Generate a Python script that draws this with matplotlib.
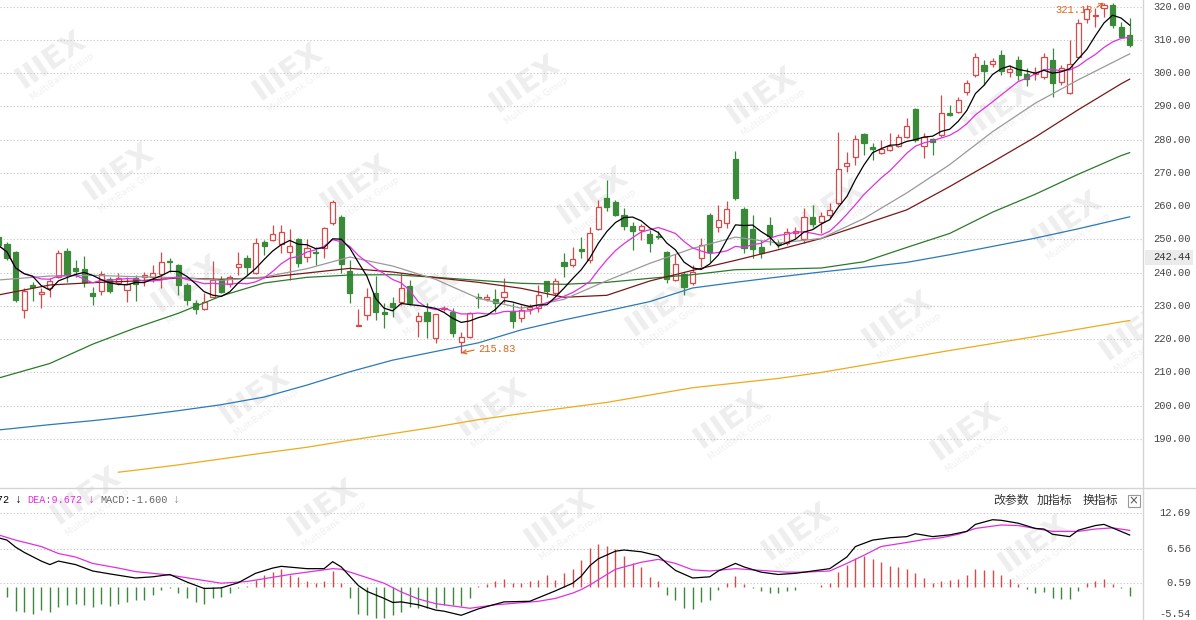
import matplotlib.pyplot as plt
from matplotlib.lines import Line2D
from matplotlib.patches import Rectangle
import numpy as np
import pandas as pd

# candles, index -1 .. 131 (the first one is cut by the left edge)
opens = [250.6, 248.6, 246.2, 228.8, 236.3, 233.7, 235.5, 238.8, 246.5, 241.5, 241.1,
         234.0, 234.5, 238.1, 236.8, 234.8, 238.3, 238.8, 238.8, 239.5, 243.5,
         242.3, 236.3, 231.0, 229.0, 232.8, 238.0, 236.6, 241.6, 244.3, 239.8,
         249.3, 249.8, 248.6, 246.3, 250.0, 244.6, 246.3, 247.3, 254.9, 256.8,
         240.4, 224.0, 227.3, 233.8, 228.3, 230.9, 231.3, 236.1, 225.5, 228.1,
         220.5, 229.1, 228.3, 219.3, 220.8, 232.8, 232.0, 232.1, 232.6, 228.6,
         226.3, 229.2, 229.3, 237.4, 233.8, 243.3, 242.3, 247.0, 243.8, 253.0,
         262.4, 261.4, 257.4, 254.1, 252.8, 251.5, 251.0, 246.2, 237.9, 239.7,
         237.0, 244.3, 257.4, 253.8, 255.0, 274.1, 259.2, 253.0, 247.6, 254.3,
         249.0, 248.8, 251.8, 250.1, 256.8, 255.3, 257.3, 260.9, 272.0, 274.7,
         281.7, 277.9, 275.9, 276.9, 278.1, 280.9, 289.1, 278.1, 280.1, 281.4,
         287.9, 288.4, 294.4, 299.5, 302.5, 302.8, 305.5, 300.2, 304.0, 299.6,
         299.8, 298.8, 304.0, 297.4, 294.0, 305.0, 316.2, 317.1, 319.6, 320.6,
         313.8, 311.5]
highs = [251.2, 249.3, 246.5, 235.3, 237.1, 235.3, 238.5, 246.8, 247.3, 243.8, 245.0,
         235.8, 240.5, 238.8, 239.8, 238.8, 239.3, 240.3, 242.2, 246.3, 244.5,
         242.6, 236.8, 231.8, 233.8, 243.5, 239.0, 239.3, 246.3, 245.2, 250.3,
         249.8, 254.3, 254.3, 253.1, 250.3, 250.0, 247.8, 253.6, 262.0, 257.2,
         243.8, 229.0, 235.3, 239.0, 230.8, 232.8, 240.0, 237.8, 228.3, 230.8,
         227.7, 229.9, 229.3, 222.3, 228.3, 233.8, 233.6, 235.2, 238.3, 230.8,
         230.3, 230.5, 236.3, 237.6, 238.3, 245.8, 247.8, 250.8, 253.8, 261.9,
         268.0, 262.0, 259.4, 255.3, 254.6, 252.8, 252.4, 246.5, 245.5, 240.3,
         242.3, 250.3, 257.9, 260.4, 261.7, 276.7, 259.9, 257.4, 249.8, 256.7,
         249.8, 253.3, 253.6, 259.6, 260.4, 258.2, 260.9, 282.4, 276.4, 281.4,
         281.9, 279.0, 279.9, 281.9, 281.8, 286.4, 289.5, 281.9, 280.4, 293.4,
         290.4, 292.9, 298.0, 306.0, 304.0, 304.5, 307.0, 302.5, 305.2, 301.5,
         302.0, 306.0, 307.5, 302.5, 310.0, 316.2, 320.5, 319.5, 321.18, 321.0,
         315.5, 316.5]
lows = [247.0, 243.8, 231.3, 226.5, 231.5, 229.3, 232.8, 238.5, 237.3, 238.8, 235.6,
        230.3, 233.3, 233.8, 236.3, 231.1, 231.5, 236.1, 237.1, 235.3, 240.3,
        233.3, 230.3, 227.6, 228.8, 232.6, 233.8, 235.8, 239.3, 239.3, 239.6,
        245.3, 249.5, 245.8, 237.8, 241.8, 243.3, 242.3, 244.3, 254.3, 240.0,
        230.8, 223.9, 225.8, 225.8, 223.3, 226.8, 230.3, 230.3, 220.7, 220.3,
        218.8, 228.6, 220.7, 215.83, 220.3, 229.3, 231.4, 228.1, 230.8, 223.3,
        225.3, 227.7, 228.3, 232.7, 233.4, 238.8, 241.8, 244.3, 242.8, 252.8,
        258.6, 256.9, 252.8, 246.8, 249.9, 246.3, 250.1, 236.8, 237.5, 233.3,
        236.3, 241.8, 243.3, 252.3, 253.3, 261.9, 245.8, 244.3, 244.3, 248.3,
        247.3, 248.3, 250.5, 249.0, 253.8, 252.0, 256.4, 260.5, 270.4, 272.4,
        275.4, 273.9, 275.7, 276.7, 277.9, 280.4, 279.4, 274.4, 275.4, 280.9,
        287.0, 288.1, 293.4, 298.8, 296.5, 302.0, 299.5, 298.8, 298.0, 296.0,
        298.0, 298.2, 292.9, 296.5, 293.7, 304.5, 315.0, 314.0, 316.9, 313.5,
        310.5, 308.0]
closes = [248.2, 244.3, 231.8, 234.5, 235.8, 234.1, 237.5, 245.8, 239.5, 240.5, 237.1,
          233.0, 239.5, 234.5, 238.3, 236.5, 236.5, 239.3, 239.8, 243.3, 243.1,
          236.3, 231.8, 229.0, 231.3, 237.8, 234.3, 238.8, 242.6, 241.6, 248.8,
          248.0, 251.6, 252.1, 248.0, 243.0, 247.3, 245.8, 253.4, 261.4, 242.5,
          233.8, 224.3, 232.6, 228.3, 227.6, 229.8, 235.5, 230.8, 227.0, 225.5,
          227.5, 229.4, 222.0, 220.8, 227.8, 232.4, 232.8, 231.0, 234.1, 225.6,
          228.7, 229.7, 233.3, 234.4, 237.4, 242.0, 244.0, 246.6, 251.9, 259.7,
          259.8, 257.4, 254.1, 252.6, 254.1, 249.0, 250.6, 238.1, 242.5, 235.7,
          240.3, 248.3, 246.3, 255.8, 259.1, 262.4, 247.3, 247.0, 246.0, 251.0,
          248.6, 252.3, 252.4, 256.8, 254.6, 257.0, 258.9, 271.1, 272.9, 280.1,
          279.1, 277.2, 277.1, 278.1, 280.9, 284.1, 279.9, 280.9, 279.4, 288.1,
          287.4, 291.9, 297.1, 304.8, 300.5, 303.7, 300.5, 301.3, 299.5, 298.2,
          300.3, 305.0, 297.0, 301.5, 302.8, 315.2, 319.2, 317.6, 320.6, 314.5,
          311.0, 308.5]

# longer moving averages (MA5 / MA10 come from the closes)
ma_idx = [-1] + list(range(5, 131, 5)) + [131]
ma20 = [237.8, 239.0, 239.2, 238.8, 238.5, 237.7, 238.7, 241.2, 244.7, 242.0, 238.0,
        232.3, 229.3, 232.0, 237.6, 242.8, 247.3, 250.7, 248.9, 250.3, 256.3,
        264.0, 272.5, 282.4, 291.0, 298.0, 304.5, 305.8]
ma30 = [233.3, 236.3, 237.0, 237.5, 238.4, 238.0, 238.5, 239.9, 241.3, 240.2, 238.5,
        237.1, 235.3, 232.6, 233.2, 237.5, 240.7, 243.7, 246.9, 250.3, 254.6,
        258.9, 265.9, 273.3, 280.8, 289.0, 296.8, 298.2]
ma60 = [208.3, 212.7, 218.5, 223.4, 227.8, 233.0, 236.9, 238.6, 239.3, 239.4, 238.6,
        237.7, 236.8, 236.5, 237.1, 238.3, 239.4, 240.9, 241.1, 241.4, 243.3,
        247.6, 251.8, 258.2, 263.6, 269.6, 275.2, 276.1]
ma120 = [192.7, 194.3, 195.5, 196.9, 198.5, 200.3, 202.6, 206.2, 210.2, 213.7, 216.3,
         218.9, 222.8, 225.8, 228.5, 231.3, 235.4, 237.1, 238.7, 240.2, 241.6,
         243.1, 245.4, 247.9, 250.4, 253.2, 256.2, 256.8]
ma250_idx = [13, 15] + list(range(20, 131, 5)) + [131]
ma250 = [180.0, 180.6, 182.2, 184.0, 185.8, 187.5, 189.6, 191.6, 193.6, 195.8, 197.6,
         199.3, 201.0, 203.2, 205.4, 206.8, 208.2, 210.0, 212.2, 214.4, 216.6,
         218.7, 220.8, 223.0, 225.2, 225.6]

# MACD panel
macd_hist = [-1.0,
             -1.7, -4.2, -4.3, -4.6, -4.0, -4.4, -3.4, -3.1, -3.0, -3.1,
             -3.4, -3.0, -3.3, -3.0, -2.7, -2.3, -2.3, -1.4, -0.6, -0.3,
             -1.0, -2.0, -2.6, -2.9, -2.0, -1.7, -1.1, -0.2, 0.2, 1.1,
             2.0, 2.5, 3.1, 2.0, 1.7, 0.9, 0.6, 0.9, 2.7, 0.6,
             -2.0, -4.6, -4.9, -5.4, -5.4, -4.9, -4.3, -3.4, -3.6, -3.7,
             -3.6, -3.1, -3.1, -3.3, -2.0, 0.2, 0.4, 0.9, 1.3, 0.6,
             0.6, 0.9, 1.1, 2.0, 1.1, 2.3, 3.1, 4.6, 6.6, 7.3,
             7.0, 6.5, 5.3, 4.0, 3.3, 1.7, 0.9, -1.4, -2.3, -3.7,
             -3.8, -2.6, -2.3, -0.6, 0.6, 1.9, 0.4, -0.2, -0.7, -1.1,
             -1.1, -0.7, -0.6, -0.1, -0.1, 0.3, 0.7, 2.5, 3.7, 5.0,
             5.3, 4.7, 4.2, 3.6, 3.3, 3.1, 2.3, 1.5, 0.7, 1.0,
             1.1, 1.3, 2.0, 3.0, 2.9, 2.9, 2.0, 1.3, 0.4, -0.4,
             -1.1, -0.9, -2.0, -2.1, -2.1, -0.7, 0.6, 1.0, 1.3, 0.4,
             -0.3, -1.6]
dif_idx = [-1, 0, 1, 2, 4, 5, 6, 8, 10, 12, 15, 17, 19, 21, 23, 25, 27, 29, 31, 32,
           35, 37, 38, 39, 41, 42, 44, 45, 46, 48, 50, 51, 53, 55, 58, 61, 64, 66, 67, 68,
           69, 71, 72, 74, 76, 77, 78, 80, 82, 83, 85, 86, 88, 90, 92, 94, 96, 98, 99, 101,
           103, 105, 106, 108, 110, 112, 113, 115, 116, 118, 120, 121, 122, 124, 125, 127,
           128, 129, 131]
dif = [8.4, 8.0, 6.8, 5.9, 4.4, 3.8, 4.4, 3.8, 2.7, 2.2, 1.5, 1.7, 2.1, 0.8, -0.3, -0.2,
       0.7, 2.3, 3.2, 3.5, 3.1, 3.1, 4.3, 3.4, 0.2, -0.8, -2.0, -2.7, -2.6, -3.1, -4.0,
       -4.2, -4.9, -3.8, -2.6, -2.5, -0.7, 0.6, 1.8, 3.6, 4.8, 6.1, 6.3, 6.0, 5.3, 4.0,
       2.8, 1.5, 1.7, 2.7, 4.0, 3.4, 2.5, 2.1, 2.3, 2.7, 3.1, 5.1, 6.9, 8.0, 8.4, 8.6,
       9.1, 8.6, 8.9, 9.5, 10.7, 11.5, 11.4, 10.9, 10.0, 9.9, 9.0, 8.6, 9.7, 10.5, 10.7,
       10.1, 8.872]
dea_idx = [-1, 1, 4, 6, 8, 10, 13, 15, 17, 19, 22, 25, 28, 33, 37, 38, 39, 44, 46, 48,
           50, 54, 57, 62, 64, 66, 67, 68, 69, 71, 74, 76, 78, 80, 82, 85, 87, 89, 91, 93,
           96, 98, 100, 102, 105, 107, 109, 111, 113, 116, 118, 120, 122, 125, 127, 129, 131]
dea = [8.9, 8.0, 6.9, 5.7, 5.1, 4.0, 3.2, 2.6, 2.3, 2.0, 1.3, 0.6, 0.9, 2.1, 2.9, 3.1,
       3.0, 0.6, -0.9, -2.1, -2.9, -3.7, -3.1, -2.5, -2.0, -1.1, -0.5, 0.3, 1.2, 3.0,
       4.2, 4.7, 4.0, 2.9, 2.7, 3.1, 2.9, 2.7, 2.5, 2.5, 2.7, 4.0, 5.4, 6.9, 7.6, 8.1,
       8.4, 9.0, 10.0, 10.6, 10.5, 10.0, 9.5, 9.5, 9.9, 10.1, 9.672]

price_ticks = [320, 310, 300, 290, 280, 270, 260, 250, 240, 230, 220, 210, 200, 190]
macd_ticks = [12.69, 6.56, 0.59, -5.54]
high_mark = (128, 321.18)
low_mark = (53, 215.83)
cursor_price = 242.44
header_dif, header_dea, header_macd = 8.872, 9.672, -1.600
menu_items = ['改参数', '加指标', '换指标']

# colours / fonts
RED = '#d84a4a'
GREEN = '#3a8a3a'
MAG = '#e030e0'
ORANGE = '#e0641a'
MONO = ['Liberation Mono', 'DejaVu Sans Mono']
CJK = ['Noto Sans CJK SC', 'DejaVu Sans']

# layout in pixels
W, H = 1196, 620
PLOT_R = 1143      # right edge of the plotting area
X0, DX = 7.0, 8.57  # pixel of candle 0, candle spacing
PRICE_B = 488
MACD_T = 490


def fy(y):
    return 1 - y / H


fig = plt.figure(figsize=(W / 100, H / 100), dpi=100)
fig.patch.set_facecolor('white')

# faint watermark tiles
marks = []
for m in range(-1, 6):
    for n in range(-1, 6):
        cx = 50 + 237 * m + 68 * n
        cy = 60 + 12 * m + 112 * n
        if -80 < cx < 1180 and -60 < cy < 680:
            marks.append(fig.text(cx / W, fy(cy), 'IIIEX', rotation=35, fontsize=22,
                                  weight='bold', color='#eeeeee', ha='center', va='center',
                                  rotation_mode='anchor', zorder=-2))
            marks.append(fig.text((cx + 12) / W, fy(cy + 17), 'MultiBank Group', rotation=35,
                                  fontsize=6.5, color='#f0f0f0', ha='center', va='center',
                                  rotation_mode='anchor', zorder=-2))
fig.add_artist(Rectangle((PLOT_R / W, 0), 1 - PLOT_R / W, 1, transform=fig.transFigure,
                         facecolor='white', edgecolor='none', zorder=-1))

# drop tiles that would be cut by the picture edge
fig.canvas.draw()
rend = fig.canvas.get_renderer()
for t in marks:
    bb = t.get_window_extent(rend)
    if bb.x0 < 0 or bb.y0 < 0 or bb.x1 > W or bb.y1 > H:
        t.remove()

xlim = (-X0 / DX, (PLOT_R - X0) / DX)
x = np.arange(-1, len(closes) - 1)
o, h, l, c = (np.array(v) for v in (opens, highs, lows, closes))

# ---------------- price panel ----------------
ax = fig.add_axes([0, fy(PRICE_B), PLOT_R / W, PRICE_B / H])
ax.set_facecolor('none')
ax.set_xlim(*xlim)
ax.set_ylim(175.25, 322.0)
ax.set_xticks([])
ax.set_yticks([])
for s in ax.spines.values():
    s.set_visible(False)

for t in price_ticks:
    ax.axhline(t, color='#c4c4c4', lw=0.8, ls=(0, (1, 2)), zorder=1)
    ax.text(1191 / PLOT_R, t, f'{t:.2f}', transform=ax.get_yaxis_transform(),
            ha='right', va='center', fontsize=7.5, family=MONO, color='#444444')

up = c >= o
bot = np.minimum(o, c)
top = np.maximum(o, c)
bh = np.maximum(top - bot, 0.15)
ax.vlines(x[up], top[up], h[up], color=RED, lw=0.9, zorder=3)
ax.vlines(x[up], l[up], bot[up], color=RED, lw=0.9, zorder=3)
ax.vlines(x[~up], l[~up], h[~up], color=GREEN, lw=0.9, zorder=3)
ax.bar(x[up], bh[up], bottom=bot[up], width=0.6, facecolor='white', edgecolor=RED,
       linewidth=0.9, zorder=3.5)
ax.bar(x[~up], bh[~up], bottom=bot[~up], width=0.6, facecolor=GREEN, edgecolor=GREEN,
       linewidth=0.9, zorder=3.5)

close_s = pd.Series(closes)
ma5 = close_s.rolling(5, min_periods=1).mean()
ma10 = close_s.rolling(10, min_periods=1).mean()
ax.plot(ma250_idx, ma250, color='#f0aa1a', lw=0.9, zorder=4)
ax.plot(ma_idx, ma120, color='#2a7ab8', lw=0.9, zorder=4)
ax.plot(ma_idx, ma60, color='#2b7a2b', lw=0.9, zorder=4)
ax.plot(ma_idx, ma30, color='#7a1818', lw=0.9, zorder=4)
ax.plot(ma_idx, ma20, color='#9a9a9a', lw=0.9, zorder=4)
ax.plot(x, ma10, color=MAG, lw=0.9, zorder=4.5)
ax.plot(x, ma5, color='black', lw=0.9, zorder=4.5)

ax.annotate(f'{high_mark[1]:.2f}', xy=high_mark, xytext=(-11, -7), textcoords='offset pixels',
            ha='right', va='center', fontsize=7.5, family=MONO, color=ORANGE, zorder=2.5,
            arrowprops=dict(arrowstyle='->', color=ORANGE, lw=0.8, shrinkA=1, shrinkB=0,
                            relpos=(1, 0.5)))
ax.annotate(f'{low_mark[1]:.2f}', xy=low_mark, xytext=(17, 4), textcoords='offset pixels',
            ha='left', va='center', fontsize=7.5, family=MONO, color=ORANGE, zorder=2.5,
            arrowprops=dict(arrowstyle='->', color=ORANGE, lw=0.8, shrinkA=1, shrinkB=0,
                            relpos=(0, 0.5)))

ppu = PRICE_B / (322.0 - 175.25)
ax.add_patch(Rectangle((1145 / PLOT_R, cursor_price), 48 / PLOT_R, 15 / ppu,
                       transform=ax.get_yaxis_transform(), facecolor='#ebebeb',
                       edgecolor='none', clip_on=False, zorder=6))
ax.text(1191 / PLOT_R, cursor_price + 7.5 / ppu, f'{cursor_price:.2f}',
        transform=ax.get_yaxis_transform(), ha='right', va='center', fontsize=7.5,
        family=MONO, color='#333333', zorder=7)

# ---------------- MACD panel ----------------
mx = fig.add_axes([0, 0, PLOT_R / W, (H - MACD_T) / H])
mx.set_facecolor('none')
mx.set_xlim(*xlim)
mx.set_ylim(-5.71, 16.6)
mx.set_xticks([])
mx.set_yticks([])
for s in mx.spines.values():
    s.set_visible(False)

for t in macd_ticks[:3]:
    mx.axhline(t, color='#c4c4c4', lw=0.8, ls=(0, (1, 2)), zorder=1)
for t in macd_ticks:
    mx.text(1191 / PLOT_R, t, f'{t:.2f}', transform=mx.get_yaxis_transform(), ha='right',
            va='bottom' if t < 0 else 'center', fontsize=7.5, family=MONO, color='#444444')

hist = np.array(macd_hist)
mx.vlines(x, 0, hist, colors=np.where(hist >= 0, RED, GREEN), lw=1.0, zorder=2)
mx.plot(dea_idx, dea, color=MAG, lw=0.9, zorder=3)
mx.plot(dif_idx, dif, color='black', lw=0.9, zorder=3)

# header of the MACD panel
hy = fy(500)
fig.text(9 / W, hy, f'DIF:{header_dif:.3f}', ha='right', va='center', fontsize=7.3,
         family=MONO, color='black')
fig.text(15 / W, hy, '↓', ha='left', va='center', fontsize=8.5, family=MONO, color='black')
fig.text(27.5 / W, hy, f'DEA:{header_dea:.3f}', ha='left', va='center', fontsize=7.3,
         family=MONO, color=MAG)
fig.text(88 / W, hy, '↓', ha='left', va='center', fontsize=8.5, family=MONO, color=MAG)
fig.text(100 / W, hy, f'MACD:{header_macd:.3f}', ha='left', va='center', fontsize=7.3,
         family=MONO, color='#666666')
fig.text(173 / W, hy, '↓', ha='left', va='center', fontsize=8.5, family=MONO, color='#888888')

for item, px in zip(menu_items, [993, 1037, 1083]):
    fig.text(px / W, hy, item, ha='left', va='center', fontsize=8.6, family=CJK,
             color='#333333')
fig.add_artist(Rectangle((1127.5 / W, fy(507)), 12.5 / W, 12.5 / H, transform=fig.transFigure,
                         fill=False, edgecolor='#999999', lw=0.8))
fig.text(1133.8 / W, fy(500.8), '×', ha='center', va='center', fontsize=8.5,
         color='#555555')

# separators
fig.add_artist(Line2D([0, 1], [fy(PRICE_B)] * 2, color='#d4d4d4', lw=1))
fig.add_artist(Line2D([PLOT_R / W] * 2, [0, 1], color='#d4d4d4', lw=1))

fig.savefig('out.png', dpi=100, facecolor='white')
